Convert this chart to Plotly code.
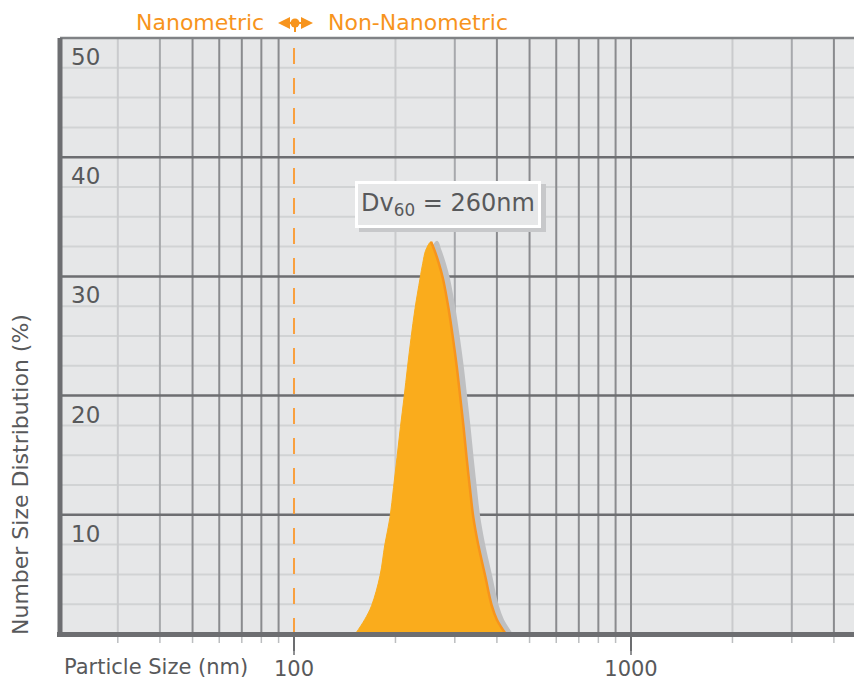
import plotly.graph_objects as go

# ---- data ----
sizes_nm = [152, 162, 170, 180, 186, 192.7, 197.4, 202.1, 207, 212, 217.2, 222.4, 228.6, 236.5, 241, 246, 255,
            261, 269, 276.7, 287.4, 296.3, 304.1, 311.5, 318.4, 325.2, 332.4, 340.4, 352, 369, 386, 400, 425]
number_pct = [0, 1.2, 2.4, 4.9, 7.5, 9.8, 12.3, 14.8, 17.4, 19.8, 22.4, 24.8, 27.3, 29.8, 31.1, 32.2, 32.9,
              32.2, 31.1, 29.8, 27.3, 24.8, 22.4, 19.8, 17.4, 14.8, 12.3, 9.8, 7.5, 4.9, 2.4, 1.2, 0]
peak_index = 16

x_tick_vals = [100, 1000]
x_tick_text = ["100", "1000"]
y_label_vals = [50, 40, 30, 20, 10]
y_minor_vals = [2.5, 5, 7.5, 12.5, 15, 17.5, 22.5, 25, 27.5, 32.5, 35, 37.5, 42.5, 45, 47.5]
y_major_vals = [10, 20, 30, 40]
grid_light = [30, 200, 2000]
grid_medium = [40, 300, 3000]
grid_dark = [50, 60, 70, 80, 90, 400, 500, 600, 700, 800, 900, 1000, 4000]
small_ticks = [30, 40, 50, 60, 70, 80, 90, 200, 300, 400, 500, 600, 700, 800, 900, 2000, 3000, 4000]
dv_label = "Dv<sub>60</sub> = 260nm"

# ---- style ----
W, H = 854, 681
ML, MR, MT, MB = 60, 0, 38, 47
PW, PH = W - ML - MR, H - MT - MB
BG = "#E6E7E8"
DARK = "#6D6E71"
TEXT = "#58595B"
ORANGE = "#F7941D"
FILL = "#FAAC1C"
SHADOW = "#BFC0C2"
FONT = "DejaVu Sans"

XR = [1.3056, 3.6617]
SHIFT = 6 / 337.0


def px(xp):
    return (xp - ML) / PW


def py(yp):
    return (H - MB - yp) / PH


fig = go.Figure()

# shadow (main x axis, shifted range)
fig.add_trace(go.Scatter(x=sizes_nm, y=number_pct, mode="lines", line=dict(color=SHADOW, width=2, shape="spline"),
                         fill="tozeroy", fillcolor=SHADOW, xaxis="x", yaxis="y", hoverinfo="skip", showlegend=False))
# orange distribution (overlay axis, true range)
fig.add_trace(go.Scatter(x=sizes_nm, y=number_pct, mode="lines", line=dict(color=FILL, width=1, shape="spline"),
                         fill="tozeroy", fillcolor=FILL, xaxis="x2", yaxis="y", showlegend=False))
fig.add_trace(go.Scatter(x=sizes_nm[peak_index:], y=number_pct[peak_index:], mode="lines",
                         line=dict(color=ORANGE, width=2.5, shape="spline"),
                         xaxis="x2", yaxis="y", hoverinfo="skip", showlegend=False))

shapes = []
for v in y_minor_vals:
    shapes.append(dict(type="line", xref="paper", yref="y", x0=0, x1=1, y0=v, y1=v,
                       line=dict(color="#D1D3D4", width=2), layer="below"))
for vals, col in ((grid_light, "#CACBCD"), (grid_medium, "#A7A9AC"), (grid_dark, "#8A8B8E")):
    for v in vals:
        shapes.append(dict(type="line", xref="x2", yref="paper", x0=v, x1=v, y0=0, y1=1,
                           line=dict(color=col, width=2), layer="below"))
for v in y_major_vals:
    shapes.append(dict(type="line", xref="paper", yref="y", x0=0, x1=1, y0=v, y1=v,
                       line=dict(color=DARK, width=2.5), layer="below"))
# top border
shapes.append(dict(type="line", xref="paper", yref="paper", x0=0, x1=1, y0=1, y1=1,
                   line=dict(color="#808285", width=2.5), layer="below"))
# dashed 100 nm boundary
shapes.append(dict(type="line", xref="x2", yref="paper", x0=100, x1=100, y0=0, y1=py(44),
                   line=dict(color="#F9A03F", width=2, dash="16px,14px"), layer="below"))
# small ticks below axis
for v in small_ticks:
    shapes.append(dict(type="line", xref="x2", yref="paper", x0=v, x1=v, y0=py(636), y1=py(643),
                       line=dict(color="#BCBEC0", width=1.5), layer="above"))
# long ticks at 100 and 1000
for v in x_tick_vals:
    shapes.append(dict(type="line", xref="x2", yref="paper", x0=v, x1=v, y0=py(636), y1=py(655),
                       line=dict(color=DARK, width=1.5), layer="above"))
# borders
shapes.append(dict(type="line", xref="paper", yref="paper", x0=px(57), x1=1, y0=py(634.5), y1=py(634.5),
                   line=dict(color=DARK, width=5), layer="above"))
shapes.append(dict(type="line", xref="paper", yref="paper", x0=px(60), x1=px(60), y0=py(637), y1=py(38),
                   line=dict(color=DARK, width=5), layer="above"))
# label box shadow
shapes.append(dict(type="rect", xref="paper", yref="paper", x0=px(359), x1=px(546), y0=py(232), y1=py(184),
                   fillcolor="#C7C8CA", line=dict(width=0), layer="above"))
# top legend arrow: dot and stem
shapes.append(dict(type="circle", xref="paper", yref="paper", x0=px(290.5), x1=px(299.5), y0=py(27.5), y1=py(18.5),
                   fillcolor=ORANGE, line=dict(width=0), layer="above"))
shapes.append(dict(type="line", xref="paper", yref="paper", x0=px(295), x1=px(295), y0=py(23), y1=py(32),
                   line=dict(color=ORANGE, width=2), layer="above"))

annotations = []
for v in y_label_vals:
    annotations.append(dict(text=str(v), xref="paper", yref="y", x=px(69), y=v, xanchor="left",
                            yanchor="middle", yshift=-19, showarrow=False,
                            font=dict(family=FONT, size=23, color=TEXT)))
annotations.append(dict(text="Particle Size (nm)", xref="paper", yref="paper", x=px(62), y=py(667),
                        xanchor="left", yanchor="middle", showarrow=False,
                        font=dict(family=FONT, size=21, color=TEXT)))
annotations.append(dict(text="Number Size Distribution (%)", xref="paper", yref="paper", x=px(20), y=py(475),
                        xanchor="center", yanchor="middle", textangle=-90, showarrow=False,
                        font=dict(family=FONT, size=22, color=TEXT)))
annotations.append(dict(text=dv_label, xref="paper", yref="paper", x=px(448), y=py(204),
                        xanchor="center", yanchor="middle", showarrow=False, bgcolor=BG,
                        bordercolor="white", borderwidth=3, borderpad=2, width=176, height=37,
                        font=dict(family=FONT, size=24, color=TEXT)))
annotations.append(dict(text="Nanometric", xref="paper", yref="paper", x=px(266), y=py(22),
                        xanchor="right", yanchor="middle", showarrow=False,
                        font=dict(family=FONT, size=22, color=ORANGE)))
annotations.append(dict(text="Non-Nanometric", xref="paper", yref="paper", x=px(326), y=py(22),
                        xanchor="left", yanchor="middle", showarrow=False,
                        font=dict(family=FONT, size=22, color=ORANGE)))
for head, tail in ((278, 295), (313, 295)):
    annotations.append(dict(text="", xref="paper", yref="paper", x=px(head), y=py(23), ax=tail - head, ay=0,
                            showarrow=True, arrowhead=2, arrowsize=1.2, arrowwidth=2, arrowcolor=ORANGE))

fig.update_layout(
    width=W, height=H, autosize=False,
    margin=dict(l=ML, r=MR, t=MT, b=MB),
    paper_bgcolor="white", plot_bgcolor=BG,
    showlegend=False,
    xaxis=dict(type="log", range=[XR[0] - SHIFT, XR[1] - SHIFT], showgrid=False, zeroline=False,
               showticklabels=False, ticks="", showline=False, fixedrange=True, automargin=False),
    xaxis2=dict(type="log", range=XR, overlaying="x", anchor="y", side="bottom", showgrid=False,
                zeroline=False, tickmode="array", tickvals=x_tick_vals, ticktext=x_tick_text,
                ticks="outside", ticklen=16, tickwidth=1.5, tickcolor=DARK, showline=False,
                automargin=False,
                tickfont=dict(family=FONT, size=21, color=TEXT)),
    yaxis=dict(range=[0, 50], showgrid=False, zeroline=False, showticklabels=False, ticks="",
               showline=False, automargin=False),
    shapes=shapes,
    annotations=annotations,
)

fig.write_html("out.html", config={"displayModeBar": False},
               post_script="document.body.style.margin='0';")
